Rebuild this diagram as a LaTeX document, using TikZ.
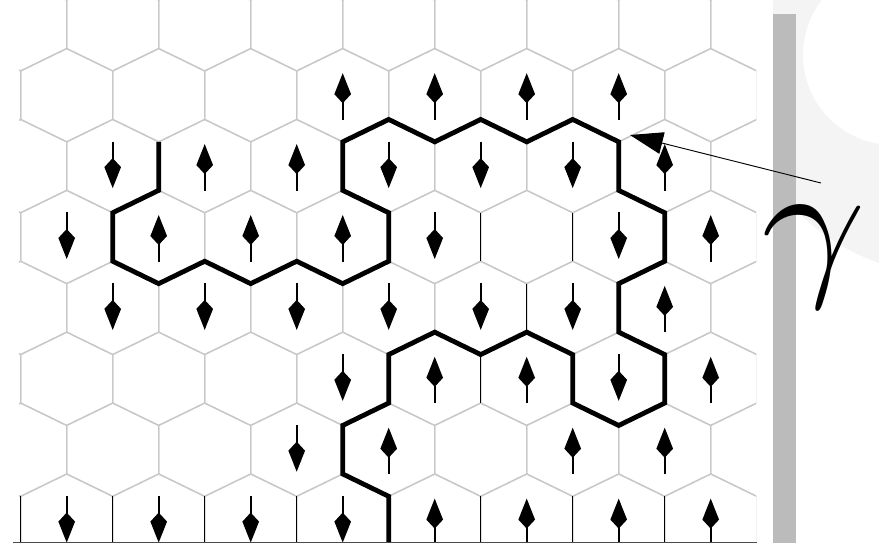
\documentclass[tikz,border=0pt]{standalone}
\usepackage{xcolor}
\usepackage{tikz}
\usetikzlibrary{arrows.meta}
\definecolor{LatticeGray}{HTML}{C8C8C8}
\definecolor{BarGray}{HTML}{BBBBBB}
\definecolor{WashGray}{HTML}{F4F4F4}

\begin{document}
\begin{tikzpicture}[x=0.03cm,y=-0.03cm,>=Triangle]
\tikzset{lattice/.style={draw=LatticeGray,line width=1.1pt},
         contour/.style={draw=black,line width=4.1pt},
         bond/.style={draw=black,line width=1.3pt},
         spinarrow/.style={draw=black,line width=1.4pt,-{Kite[length=0.9cm,width=0.5cm,inset=0.27cm]}},
         pointer/.style={draw=black,line width=0.8pt,-{Triangle[length=0.99cm,width=0.66cm]}},
         rimline/.style={draw=black!70,line width=0.8pt}}
\useasboundingbox (0,0) rectangle (879,543);
\begin{scope}
\clip (773,0) rectangle (879,543);
\fill[WashGray,even odd rule] (950,60) circle[radius=215] (893,55) circle[radius=90];
\end{scope}
\fill[BarGray] (773,14) rectangle (796,543);
\begin{scope}
\clip (19,0) rectangle (756,543);
\foreach \r in {-1,...,7}{
  \foreach \k in {-1,...,9}{
    \pgfmathsetmacro\cx{66.7+92*\k-46*mod(\r+2,2)}
    \pgfmathsetmacro\cy{95.2+70.9*\r}
    \draw[lattice] (\cx,\cy) ++(0,-46.65) -- ++(46,22.4) -- ++(0,48.5) -- ++(-46,22.4) -- ++(-46,-22.4) -- ++(0,-48.5) -- cycle;
  }
}
\foreach \x/\r in {480.7/2,572.7/2,526.7/3,480.7/4,20.7/6,112.7/6,204.7/6,296.7/6,480.7/6,572.7/6,664.7/6}
  \draw[bond] (\x,{95.2+70.9*\r-24.25}) -- (\x,{95.2+70.9*\r+24.25});
\foreach \x/\r in {342.7/0,434.7/0,526.7/0,618.7/0,204.7/1,296.7/1,664.7/1,158.7/2,250.7/2,342.7/2,710.7/2,664.7/3,
                   434.7/4,526.7/4,710.7/4,388.7/5,572.7/5,664.7/5,434.7/6,526.7/6,618.7/6,710.7/6}
  \draw[spinarrow] (\x,{95.2+70.9*\r+24.5}) -- (\x,{95.2+70.9*\r-22});
\foreach \x/\r in {112.7/1,388.7/1,480.7/1,572.7/1,66.7/2,434.7/2,618.7/2,112.7/3,204.7/3,296.7/3,388.7/3,480.7/3,572.7/3,
                   342.7/4,618.7/4,296.7/5,66.7/6,158.7/6,250.7/6,342.7/6}
  \draw[spinarrow] (\x,{95.2+70.9*\r-24.5}) -- (\x,{95.2+70.9*\r+22});
\end{scope}
\draw[contour] (158.7,141.85) -- (158.7,190.35) -- (112.7,212.75) -- (112.7,261.25) -- (158.7,283.65) -- (204.7,261.25)
  -- (250.7,283.65) -- (296.7,261.25) -- (342.7,283.65) -- (388.7,261.25) -- (388.7,212.75) -- (342.7,190.35)
  -- (342.7,141.85) -- (388.7,119.45) -- (434.7,141.85) -- (480.7,119.45) -- (526.7,141.85) -- (572.7,119.45)
  -- (618.7,141.85) -- (618.7,190.35) -- (664.7,212.75) -- (664.7,261.25) -- (618.7,283.65) -- (618.7,332.15)
  -- (664.7,354.55) -- (664.7,403.05) -- (618.7,425.45) -- (572.7,403.05) -- (572.7,354.55) -- (526.7,332.15)
  -- (480.7,354.55) -- (434.7,332.15) -- (388.7,354.55) -- (388.7,403.05) -- (342.7,425.45) -- (342.7,473.95)
  -- (388.7,496.35) -- (388.7,545);
\draw[rimline] (13,542) -- (757,542);
\node[xscale=6.4,yscale=5.6,inner sep=0pt] (gamma) at (814,257) {\Huge$\gamma$};
\coordinate (gtail) at (821,183);
\coordinate (gtip) at (630,135);
\draw[pointer] (gtail) -- (gtip);
\end{tikzpicture}
\end{document}
